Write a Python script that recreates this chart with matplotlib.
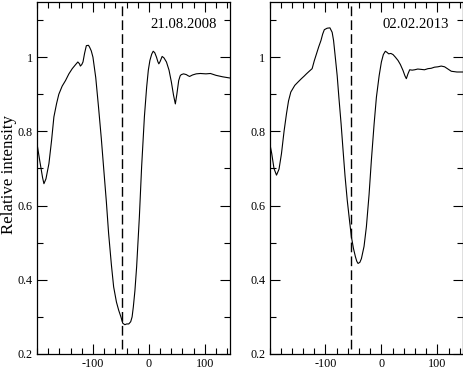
import matplotlib.pyplot as plt
from matplotlib.ticker import MultipleLocator

# radial velocity (km/s) and relative intensity
vel_2008 = [-200, -195, -190, -187.6, -184, -178.7, -174, -169.8, -165, -161, -155,
            -149, -143, -137, -131, -127, -124, -122.5, -120, -117.8, -115, -111.8,
            -108, -106, -103, -100, -95, -90, -85, -81, -76, -72, -67, -63, -58,
            -54, -50, -46.7, -43, -39.6, -36, -32.5, -30, -27.8, -25, -21.9, -17,
            -13, -8, -4, -1, 1.8, 5, 7.7, 10.5, 13.6, 16, 17.8, 20, 23.7, 27, 31.4,
            36, 40.2, 44, 47.3, 50, 53.3, 56, 58, 62, 66.9, 70, 72.8, 78, 84.6, 92,
            102, 110, 120, 132, 144]
int_2008 = [0.767, 0.72, 0.675, 0.659, 0.672, 0.713, 0.775, 0.839, 0.875, 0.90, 0.922,
            0.937, 0.955, 0.969, 0.980, 0.987, 0.982, 0.976, 0.980, 0.987, 1.010, 1.031,
            1.032, 1.027, 1.017, 1.0, 0.945, 0.865, 0.780, 0.704, 0.610, 0.525, 0.440,
            0.381, 0.340, 0.318, 0.300, 0.283, 0.279, 0.281, 0.281, 0.287, 0.300, 0.327,
            0.370, 0.435, 0.570, 0.704, 0.840, 0.919, 0.965, 0.991, 1.008, 1.016, 1.012,
            1.000, 0.988, 0.982, 0.988, 1.002, 0.998, 0.987, 0.965, 0.933, 0.898, 0.874,
            0.900, 0.937, 0.950, 0.953, 0.955, 0.953, 0.950, 0.948, 0.952, 0.955, 0.956,
            0.955, 0.956, 0.951, 0.947, 0.944]

vel_2013 = [-200.6, -196, -192, -187.5, -183, -178.6, -174, -169.6, -166, -161.9,
            -154.8, -149, -143, -138, -134, -129, -123.8, -120, -116, -112, -108,
            -105, -102, -97, -92, -88, -85.5, -83, -79, -76, -72, -68.5, -65, -61,
            -57, -53.6, -50, -46.4, -44, -41.7, -38.5, -35.7, -31, -26.8, -22, -17.9,
            -13, -8.9, -4, 0, 3.5, 7.1, 10, 13, 17, 20.8, 25, 29.8, 34, 38.7, 42,
            44.6, 47.5, 50.6, 55, 59.5, 65, 71.4, 77, 83.3, 89, 95, 101, 107, 113,
            119, 125, 135, 146]
int_2013 = [0.776, 0.74, 0.70, 0.682, 0.698, 0.740, 0.800, 0.848, 0.882, 0.906,
            0.924, 0.933, 0.942, 0.949, 0.955, 0.962, 0.969, 0.990, 1.009, 1.028, 1.045,
            1.062, 1.074, 1.078, 1.079, 1.067, 1.045, 1.009, 0.950, 0.892, 0.820, 0.749,
            0.680, 0.614, 0.560, 0.516, 0.485, 0.462, 0.450, 0.444, 0.447, 0.457, 0.490,
            0.543, 0.630, 0.722, 0.820, 0.892, 0.950, 0.987, 1.007, 1.016, 1.013, 1.009,
            1.010, 1.007, 1.000, 0.991, 0.980, 0.964, 0.950, 0.942, 0.955, 0.966, 0.965,
            0.966, 0.968, 0.967, 0.966, 0.969, 0.970, 0.973, 0.974, 0.976, 0.974, 0.968,
            0.962, 0.960, 0.960]

dates = ['21.08.2008', '02.02.2013']
marker_vel = [-48.6, -53.6]
xticks = [-100, 0, 100]
yticks = [0.2, 0.4, 0.6, 0.8, 1.0]
ytick_labels = ['0.2', '0.4', '0.6', '0.8', '1']

plt.rcParams['font.family'] = ['Liberation Serif', 'DejaVu Serif']
plt.rcParams['axes.unicode_minus'] = False

fig = plt.figure(figsize=(4.63, 3.71), dpi=100)
ax1 = fig.add_axes([37 / 463, 17 / 371, 193 / 463, 352.5 / 371])
ax2 = fig.add_axes([269.5 / 463, 17 / 371, 193 / 463, 352.5 / 371])

for ax, v, i, date, vm in zip((ax1, ax2), (vel_2008, vel_2013),
                              (int_2008, int_2013), dates, marker_vel):
    ax.plot(v, i, 'k-', lw=0.8)
    ax.axvline(vm, ymin=0.014, ymax=1, color='k', lw=1.0, ls=(0, (7, 3)))
    ax.set_xlim(-200, 145)
    ax.set_ylim(0.2, 1.15)
    ax.set_xticks(xticks)
    ax.set_xticklabels([str(t) for t in xticks])
    ax.xaxis.set_minor_locator(MultipleLocator(20))
    ax.set_yticks(yticks)
    ax.set_yticklabels(ytick_labels)
    ax.yaxis.set_minor_locator(MultipleLocator(0.1))
    ax.tick_params(which='both', direction='in', top=True, right=True,
                   labelsize=8.7, width=0.8, pad=3)
    ax.tick_params(which='major', length=7)
    ax.tick_params(which='minor', length=4)
    for s in ax.spines.values():
        s.set_linewidth(0.9)
    ax.text(0.93, 0.935, date, transform=ax.transAxes, ha='right', va='center',
            fontsize=10.6)

fig.text(9 / 463, 1 - 175 / 371, 'Relative intensity', rotation=90,
         ha='center', va='center', fontsize=12.2)

fig.savefig('out.png', dpi=100)
